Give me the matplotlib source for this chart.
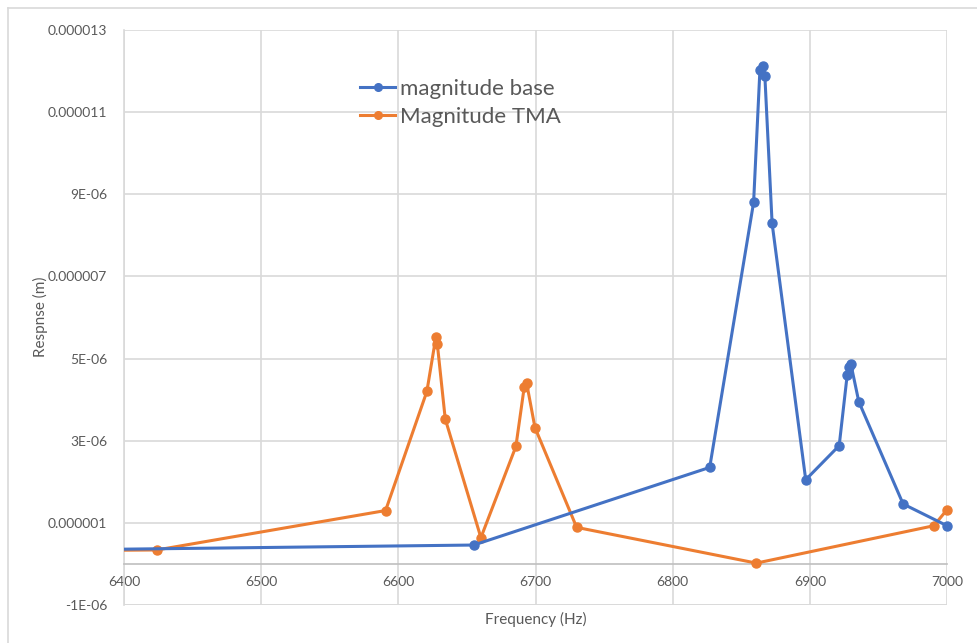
import matplotlib
matplotlib.use("Agg")
import matplotlib.pyplot as plt
from matplotlib.lines import Line2D

plt.rcParams['font.family'] = ['Lato', 'DejaVu Sans']

# magnitude base (first point lies left of the visible range)
base_freq = [6300, 6655, 6827, 6859, 6863.6, 6866, 6867.2, 6872.5, 6897,
             6921.4, 6927.2, 6928.4, 6929.9, 6935.7, 6968, 7000]
base_mag = [0.32e-6, 0.46e-6, 2.35e-6, 8.80e-6, 12.02e-6, 12.13e-6, 11.89e-6,
            8.29e-6, 2.05e-6, 2.88e-6, 4.59e-6, 4.79e-6, 4.87e-6, 3.95e-6,
            1.46e-6, 0.93e-6]

# Magnitude TMA
tma_freq = [6300, 6424, 6590.7, 6620.8, 6627.4, 6628.4, 6634.2, 6660.2,
            6685.7, 6691.8, 6693.5, 6699.6, 6730, 6861, 6990.4, 7000]
tma_mag = [0.31e-6, 0.34e-6, 1.30e-6, 4.20e-6, 5.53e-6, 5.36e-6, 3.53e-6,
           0.64e-6, 2.86e-6, 4.31e-6, 4.41e-6, 3.32e-6, 0.89e-6, 0.02e-6,
           0.93e-6, 1.32e-6]

y_ticks = [-1e-6, 1e-6, 3e-6, 5e-6, 7e-6, 9e-6, 11e-6, 13e-6]
y_labels = ['-1E-06', '0.000001', '3E-06', '5E-06', '0.000007', '9E-06',
            '0.000011', '0.000013']
x_ticks = [6400, 6500, 6600, 6700, 6800, 6900, 7000]

fig = plt.figure(figsize=(9.77, 6.43), dpi=100)
ax = fig.add_axes([124 / 977, 1 - 605 / 643, 823 / 977, 575 / 643])

grid_col = '#d9d9d9'
text_col = '#595959'


def draw(freq, mag, color, label, z):
    # line clipped to the plot area, markers only for visible points
    ax.plot(freq, mag, color=color, lw=2.2, zorder=z)
    vis = [(f, m) for f, m in zip(freq, mag) if 6400 <= f <= 7000]
    ax.plot([v[0] for v in vis], [v[1] for v in vis], ls='none', marker='o',
            ms=6.5, color=color, zorder=z, clip_on=False)
    ax.plot([], [], color=color, lw=2.2, marker='o', ms=5.5, label=label)


draw(base_freq, base_mag, '#4472C4', 'magnitude base', 4)
draw(tma_freq, tma_mag, '#ED7D31', 'Magnitude TMA', 3)

ax.set_xlim(6400, 7000)
ax.set_ylim(-1e-6, 13e-6)
ax.set_xticks(x_ticks)
ax.set_yticks(y_ticks)
ax.set_yticklabels(y_labels)
ax.tick_params(length=0, labelsize=10, labelcolor=text_col)
ax.tick_params(axis='y', pad=12)
ax.tick_params(axis='x', pad=9)

ax.grid(True, color=grid_col, lw=1.2, zorder=0)
ax.set_axisbelow(True)
for side in ['top', 'right']:
    ax.spines[side].set_visible(False)
ax.spines['left'].set_color(grid_col)
ax.spines['left'].set_linewidth(1.2)
ax.spines['bottom'].set_position(('data', 0))
ax.spines['bottom'].set_color('#bfbfbf')
ax.spines['bottom'].set_linewidth(1.2)
ax.axhline(-1e-6, color=grid_col, lw=1.2, zorder=0)

fig.text(536 / 977, 1 - 619 / 643, 'Frequency (Hz)', ha='center', va='center',
         fontsize=11, color=text_col)
fig.text(40 / 977, 1 - 317 / 643, 'Respnse (m)', ha='center', va='center',
         rotation=90, fontsize=11, color=text_col)

ax.legend(loc='upper left', bbox_to_anchor=((351 - 124) / 823, (605 - 70) / 575),
          frameon=False, fontsize=16, labelcolor=text_col, handlelength=1.6,
          handletextpad=0.2, borderaxespad=0, labelspacing=0.35)

# chart area border (top and left edges visible)
fig.add_artist(Line2D([8 / 977, 1], [1 - 8 / 643, 1 - 8 / 643],
                      transform=fig.transFigure, color=grid_col, lw=1.2))
fig.add_artist(Line2D([8 / 977, 8 / 977], [0, 1 - 8 / 643],
                      transform=fig.transFigure, color=grid_col, lw=1.2))

fig.savefig('out.png', dpi=100)
